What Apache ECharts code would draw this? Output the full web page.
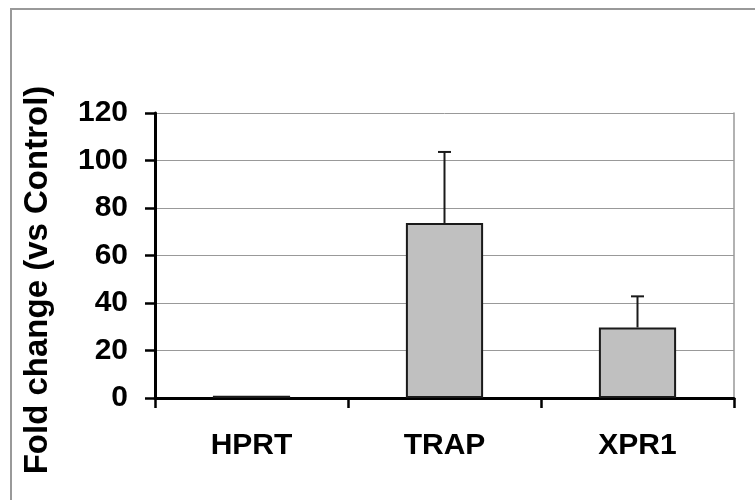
<!DOCTYPE html>
<html><head><meta charset="utf-8">
<script src="https://cdn.jsdelivr.net/npm/echarts@6/dist/echarts.min.js"></script>
<style>html,body{margin:0;padding:0;background:#fff}#c{width:755px;height:500px}</style>
</head><body><div id="c"></div>
<script>
const categories = ['HPRT', 'TRAP', 'XPR1'];
const values = [1, 73.7, 29.7];
const errors = [0, 29.9, 13.1];
const yTicks = [0, 20, 40, 60, 80, 100, 120];
const yTitle = 'Fold change (vs Control)';

const chart = echarts.init(document.getElementById('c'));
const font = '"Liberation Sans", Arial, sans-serif';
chart.setOption({
  animation: false,
  backgroundColor: '#fff',
  grid: { left: 155, right: 21, top: 113, bottom: 102 },
  graphic: [
    { type: 'rect', shape: { x: 11, y: 9, width: 800, height: 600 }, style: { fill: 'none', stroke: '#999', lineWidth: 2 }, z: -1 },
    { type: 'text', x: 38, y: 280, rotation: Math.PI / 2, style: { text: yTitle, font: 'bold 33px ' + font, fill: '#000', textAlign: 'center', textVerticalAlign: 'middle' } }
  ],
  xAxis: {
    type: 'category', data: categories,
    axisLine: { lineStyle: { color: '#000', width: 3 } },
    axisTick: { show: true, length: 10, lineStyle: { color: '#000', width: 2.5 } },
    axisLabel: { color: '#000', fontFamily: font, fontWeight: 'bold', fontSize: 30, margin: 33 }
  },
  yAxis: [{
    type: 'value', min: yTicks[0], max: yTicks[yTicks.length - 1], interval: 20,
    axisLine: { show: true, lineStyle: { color: '#000', width: 3 } },
    axisTick: { show: true, length: 10, lineStyle: { color: '#000', width: 2.5 } },
    axisLabel: { color: '#000', fontFamily: font, fontWeight: 'bold', fontSize: 30, margin: 27 },
    splitLine: { show: true, lineStyle: { color: '#999', width: 1 } }
  }, {
    type: 'value', position: 'right', min: yTicks[0], max: yTicks[yTicks.length - 1], interval: 20,
    axisLine: { show: true, lineStyle: { color: '#999', width: 1.5 } },
    axisTick: { show: false }, axisLabel: { show: false }, splitLine: { show: false }
  }],
  series: [
    { type: 'bar', data: values, barWidth: '40%', itemStyle: { color: '#c0c0c0', borderColor: '#1a1a1a', borderWidth: 2 } },
    { type: 'custom', data: values.map((v, i) => [i, v, v + errors[i]]),
      renderItem: function (params, api) {
        if (api.value(2) <= api.value(1)) return null;
        const p0 = api.coord([api.value(0), api.value(1)]);
        const p1 = api.coord([api.value(0), api.value(2)]);
        const hw = 6.5;
        return { type: 'group', children: [
          { type: 'line', shape: { x1: p0[0], y1: p0[1], x2: p1[0], y2: p1[1] }, style: { stroke: '#1a1a1a', lineWidth: 2 } },
          { type: 'line', shape: { x1: p1[0] - hw, y1: p1[1], x2: p1[0] + hw, y2: p1[1] }, style: { stroke: '#1a1a1a', lineWidth: 2 } }
        ] };
      }, z: 3 }
  ]
});
</script></body></html>
